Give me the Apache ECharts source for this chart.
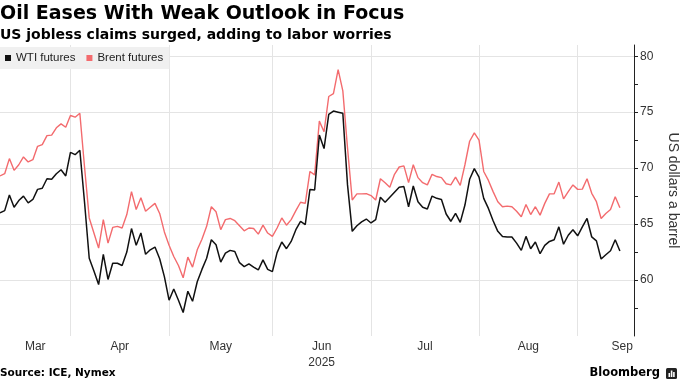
<!DOCTYPE html>
<html><head><meta charset="utf-8">
<script src="https://cdn.jsdelivr.net/npm/echarts@6/dist/echarts.min.js"></script>
<style>html,body{margin:0;padding:0;background:#fff}#c{width:680px;height:382px}</style>
</head><body><div id="c"></div>
<script>
// ---------- data ----------
const startDate = '2025-03-10';          // first trading day shown
const closedDays = ['2025-04-18'];       // Good Friday, both exchanges closed
const axisDays = 136;                    // weekdays spanned by the x axis
const seriesNames = ['WTI futures', 'Brent futures'];
const monthNames = ['Jan','Feb','Mar','Apr','May','Jun','Jul','Aug','Sep','Oct','Nov','Dec'];
const yearUnderMonth = '2025-06';
const yLabels = [60, 65, 70, 75, 80];
const yTickMarks = [57.5, 60, 62.5, 65, 67.5, 70, 72.5, 75, 77.5, 80];

const wti = [
  66.0, 66.2, 67.6, 66.5, 67.1, 67.5, 66.9, 67.2, 68.1, 68.2,
  69.05, 69.0, 69.5, 69.85, 69.3, 71.4, 71.2, 71.6, 66.95, 61.95,
  60.8, 59.6, 62.3, 60.05, 61.5, 61.5, 61.3, 62.5, 64.6, 63.1,
  64.2, 62.3, 62.7, 62.95, 61.9, 60.3, 58.2, 59.2, 58.2, 57.1,
  59.0, 58.1, 59.85, 60.95, 61.95, 63.6, 63.15, 61.6, 62.4, 62.65,
  62.55, 61.55, 61.2, 61.45, 61.15, 60.9, 61.8, 60.95, 60.75, 62.45,
  63.4, 62.8, 63.45, 64.5, 65.25, 64.95, 68.1, 68.05, 72.95, 71.75,
  74.8, 75.1, 75.0, 74.9, 68.5, 64.35, 64.85, 65.2, 65.45, 65.1,
  65.4, 67.4, 66.95, 67.4, 67.85, 68.3, 68.35, 66.55, 68.4, 67.0,
  66.5, 66.35, 67.5, 67.3, 67.2, 65.9, 65.25, 65.95, 65.15, 66.7,
  69.0, 69.95, 69.2, 67.3, 66.4, 65.3, 64.35, 63.9, 63.85, 63.85,
  63.3, 62.65, 63.9, 62.8, 63.4, 62.35, 63.1, 63.45, 63.6, 64.75,
  63.2, 64.0, 64.5, 63.95, 64.75, 65.5, 63.85, 63.5, 61.88, 62.26,
  62.62, 63.6, 62.6
];
const brent = [
  69.3, 69.5, 70.85, 69.8, 70.3, 71.0, 70.55, 70.75, 71.95, 72.1,
  72.9, 72.95, 73.6, 73.95, 73.65, 74.7, 74.55, 74.9, 70.1, 65.55,
  64.2, 62.85, 65.4, 63.3, 64.7, 64.8, 64.65, 65.85, 67.9, 66.3,
  67.35, 66.15, 66.5, 66.85, 65.95, 64.3, 63.1, 62.1, 61.3, 60.2,
  62.05, 61.15, 62.7, 63.65, 64.8, 66.55, 66.1, 64.5, 65.4, 65.5,
  65.3, 64.85, 64.4, 64.65, 64.6, 64.1, 64.9, 64.2, 63.9, 64.65,
  65.55, 64.9, 65.4, 66.2, 66.95, 66.85, 69.7, 69.4, 74.2, 73.25,
  76.4, 76.65, 78.8, 76.9, 71.8, 67.15, 67.7, 67.7, 67.72, 67.55,
  67.15, 69.05, 68.7, 68.3, 69.45, 70.1, 70.2, 68.7, 70.3, 69.15,
  68.7, 68.5, 69.45, 69.25, 69.15, 68.6, 68.5, 69.2, 68.45, 70.3,
  72.4, 73.15, 72.5, 69.7, 68.9, 67.9, 67.0, 66.55, 66.6, 66.55,
  66.15, 65.65, 66.75, 65.85, 66.55, 65.8, 66.85, 67.7, 67.7, 68.75,
  67.25, 67.9, 68.5, 68.1, 68.12, 69.05, 67.75, 67.0, 65.5, 65.95,
  66.3, 67.45, 66.45
];

// ---------- derived axis helpers ----------
const dates = [];
{
  const d = new Date(startDate + 'T00:00:00Z');
  while (dates.length < axisDays) {
    const wd = d.getUTCDay();
    const iso = d.toISOString().slice(0, 10);
    if (wd !== 0 && wd !== 6 && closedDays.indexOf(iso) < 0) dates.push(iso);
    d.setUTCDate(d.getUTCDate() + 1);
  }
}
const axisMax = dates.length - 1;
const months = [];
dates.forEach((iso, i) => {
  const key = iso.slice(0, 7);
  const last = months[months.length - 1];
  if (!last || last.key !== key) months.push({ key, start: i, end: i });
  else last.end = i;
});
const boundaries = months.slice(0, -1).map(m => m.end);
const labelPos = months.map((m, k) => {
  if (k === months.length - 1) return axisMax - 2.5;
  const from = k === 0 ? 0 : months[k - 1].end;
  return (from + m.end) / 2;
});
function monthLabel(v) {
  let best = 0, bd = 1e9;
  labelPos.forEach((p, k) => { const dd = Math.abs(p - v); if (dd < bd) { bd = dd; best = k; } });
  const m = months[best];
  const name = monthNames[parseInt(m.key.slice(5, 7), 10) - 1];
  return m.key === yearUnderMonth ? name + '\n' + m.key.slice(0, 4) : name;
}

const chart = echarts.init(document.getElementById('c'), null, { renderer: 'canvas' });
const sansFont = 'Liberation Sans';
const boldFont = 'DejaVu Sans';
chart.setOption({
  animation: false,
  backgroundColor: '#ffffff',
  title: [
    { text: 'Oil Eases With Weak Outlook in Focus', left: 0, top: 5, padding: 0,
      textStyle: { fontFamily: boldFont, fontWeight: 'bold', fontSize: 19, color: '#000' } },
    { text: 'US jobless claims surged, adding to labor worries', left: 0, top: 28, padding: 0,
      textStyle: { fontFamily: boldFont, fontWeight: 'bold', fontSize: 14, color: '#000' } },
    { text: 'Source: ICE, Nymex', left: 0, top: 368, padding: 0,
      textStyle: { fontFamily: boldFont, fontWeight: 'bold', fontSize: 10.5, color: '#000' } }
  ],
  legend: {
    left: 0, top: 47, data: seriesNames, icon: 'rect', itemWidth: 6, itemHeight: 6, itemGap: 11,
    padding: [5, 6, 5, 5], backgroundColor: '#f0f0f0', selectedMode: false,
    textStyle: { fontFamily: sansFont, fontSize: 11.5, color: '#222' }
  },
  grid: { left: 0, right: 46, top: 45, bottom: 46, containLabel: false, outerBoundsMode: 'none' },
  xAxis: {
    type: 'value', min: 0, max: axisMax,
    axisLine: { show: false, onZero: false },
    axisTick: { show: false, customValues: boundaries },
    splitLine: { show: true, lineStyle: { color: '#e4e4e4', width: 1 } },
    axisLabel: { customValues: labelPos, formatter: monthLabel, margin: 3, fontFamily: sansFont,
      fontSize: 12, color: '#333', lineHeight: 16 }
  },
  yAxis: [
    { type: 'value', position: 'right', min: 55, max: 81,
      axisLine: { show: true, onZero: false, lineStyle: { color: '#222', width: 1 } },
      axisTick: { show: true, length: 4, customValues: yTickMarks, lineStyle: { color: '#222' } },
      axisLabel: { customValues: yLabels, margin: 6, fontFamily: sansFont, fontSize: 12, color: '#333' },
      splitLine: { show: false },
      name: 'US dollars a barrel', nameLocation: 'middle', nameRotate: -90, nameGap: 32,
      nameTextStyle: { fontFamily: sansFont, fontSize: 14, color: '#333' } },
    { type: 'value', position: 'right', min: 55, max: 81,
      axisLine: { show: false, onZero: false },
      axisTick: { show: false, customValues: yLabels },
      axisLabel: { show: false },
      splitLine: { show: true, lineStyle: { color: '#e4e4e4', width: 1 } } }
  ],
  series: [
    { name: seriesNames[1], type: 'line', yAxisIndex: 0, showSymbol: false, z: 2,
      data: brent.map((v, i) => [i, v]), itemStyle: { color: '#f36b6e' },
      lineStyle: { color: '#f36b6e', width: 1.4 } },
    { name: seriesNames[0], type: 'line', yAxisIndex: 0, showSymbol: false, z: 3,
      data: wti.map((v, i) => [i, v]), itemStyle: { color: '#111111' },
      lineStyle: { color: '#111111', width: 1.5 } }
  ],
  graphic: [
    { type: 'text', right: 20, top: 367,
      style: { text: 'Bloomberg', fontFamily: boldFont, fontWeight: 'bold', fontSize: 11.5, fill: '#000' } },
    { type: 'group', right: 3, top: 368, children: [
      { type: 'rect', shape: { x: 0, y: 0, width: 11, height: 11, r: 1.5 }, style: { fill: '#222' } },
      { type: 'rect', shape: { x: 2.5, y: 5, width: 1.6, height: 4 }, style: { fill: '#fff' } },
      { type: 'rect', shape: { x: 4.8, y: 2.5, width: 1.6, height: 6.5 }, style: { fill: '#fff' } },
      { type: 'rect', shape: { x: 7.1, y: 4, width: 1.6, height: 5 }, style: { fill: '#fff' } }
    ] }
  ]
});
</script>
</body></html>
